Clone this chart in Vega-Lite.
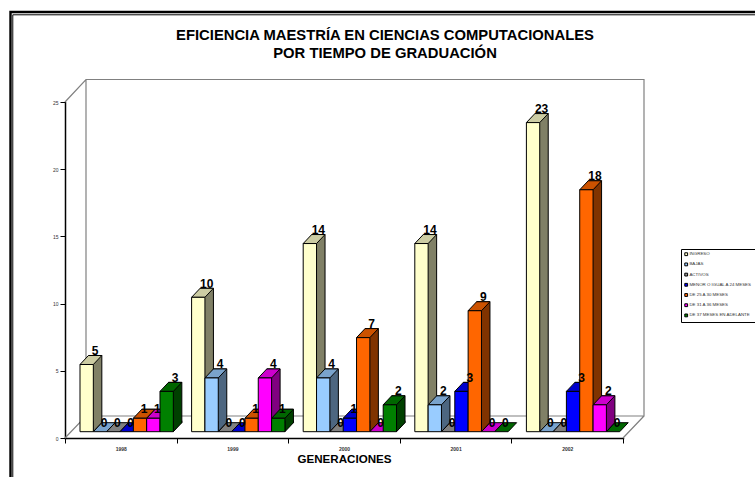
{"$schema":"https://vega.github.io/schema/vega-lite/v6.json","width":558,"height":336,"autosize":{"type":"none"},"padding":{"left":65,"top":102,"right":132,"bottom":39},"background":"white","title":{"text":["EFICIENCIA MAESTRÍA EN CIENCIAS COMPUTACIONALES","POR TIEMPO DE GRADUACIÓN"],"anchor":"middle","dx":41,"offset":-54,"font":"Liberation Sans","fontSize":14.8,"fontWeight":"bold","lineHeight":18,"color":"black"},"datasets":{"rows":[{"g":"1998","s":"INGRESO","v":5},{"g":"1998","s":"BAJAS","v":0},{"g":"1998","s":"ACTIVOS","v":0},{"g":"1998","s":"MENOR O IGUAL A 24 MESES","v":0},{"g":"1998","s":"DE 25 A 30 MESES","v":1},{"g":"1998","s":"DE 31 A 36 MESES","v":1},{"g":"1998","s":"DE 37 MESES EN ADELANTE","v":3},{"g":"1999","s":"INGRESO","v":10},{"g":"1999","s":"BAJAS","v":4},{"g":"1999","s":"ACTIVOS","v":0},{"g":"1999","s":"MENOR O IGUAL A 24 MESES","v":0},{"g":"1999","s":"DE 25 A 30 MESES","v":1},{"g":"1999","s":"DE 31 A 36 MESES","v":4},{"g":"1999","s":"DE 37 MESES EN ADELANTE","v":1},{"g":"2000","s":"INGRESO","v":14},{"g":"2000","s":"BAJAS","v":4},{"g":"2000","s":"ACTIVOS","v":0},{"g":"2000","s":"MENOR O IGUAL A 24 MESES","v":1},{"g":"2000","s":"DE 25 A 30 MESES","v":7},{"g":"2000","s":"DE 31 A 36 MESES","v":0},{"g":"2000","s":"DE 37 MESES EN ADELANTE","v":2},{"g":"2001","s":"INGRESO","v":14},{"g":"2001","s":"BAJAS","v":2},{"g":"2001","s":"ACTIVOS","v":0},{"g":"2001","s":"MENOR O IGUAL A 24 MESES","v":3},{"g":"2001","s":"DE 25 A 30 MESES","v":9},{"g":"2001","s":"DE 31 A 36 MESES","v":0},{"g":"2001","s":"DE 37 MESES EN ADELANTE","v":0},{"g":"2002","s":"INGRESO","v":23},{"g":"2002","s":"BAJAS","v":0},{"g":"2002","s":"ACTIVOS","v":0},{"g":"2002","s":"MENOR O IGUAL A 24 MESES","v":3},{"g":"2002","s":"DE 25 A 30 MESES","v":18},{"g":"2002","s":"DE 31 A 36 MESES","v":2},{"g":"2002","s":"DE 37 MESES EN ADELANTE","v":0}]},"data":{"name":"rows"},"encoding":{"x":{"field":"g","type":"nominal","title":"GENERACIONES","scale":{"domain":["1998","1999","2000","2001","2002"],"paddingInner":0,"paddingOuter":0},"axis":{"labelAngle":0,"tickBand":"extent","tickSize":5,"tickColor":"black","domainColor":"black","domainWidth":1.5,"labelFont":"Liberation Sans","labelFontSize":5,"labelFontWeight":"bold","labelColor":"#333333","labelPadding":3,"titleFont":"Liberation Sans","titleFontSize":11.6,"titleFontWeight":"bold","titleColor":"black","titlePadding":2}},"xOffset":{"field":"s","type":"nominal","scale":{"type":"band","domain":["INGRESO","BAJAS","ACTIVOS","MENOR O IGUAL A 24 MESES","DE 25 A 30 MESES","DE 31 A 36 MESES","DE 37 MESES EN ADELANTE"],"range":[15,108.33],"paddingInner":0,"paddingOuter":0}},"y":{"field":"v","type":"quantitative","title":null,"scale":{"domain":[0,25],"nice":false},"axis":{"values":[0,5,10,15,20,25],"grid":false,"tickSize":5,"tickColor":"black","domainColor":"black","domainWidth":1.5,"labelFont":"Liberation Sans","labelFontSize":5,"labelColor":"#333333","labelPadding":2}}},"layer":[{"transform":[{"filter":"datum.g == '1998' && datum.s == 'INGRESO'"}],"mark":{"type":"point","shape":"M-76.17,39 L-76.17,-426 L668.33,-426","size":4,"filled":false,"stroke":"black","strokeWidth":2.4,"opacity":1},"encoding":{"y":{"datum":0,"type":"quantitative"}}},{"transform":[{"filter":"datum.g == '1998' && datum.s == 'INGRESO'"}],"mark":{"type":"point","shape":"M-73.87,39 L-73.87,-423.2 L668.33,-423.2","size":4,"filled":false,"stroke":"black","strokeWidth":1,"opacity":1},"encoding":{"y":{"datum":0,"type":"quantitative"}}},{"transform":[{"filter":"datum.g == '1998' && datum.s == 'INGRESO'"}],"mark":{"type":"point","shape":"M-21.67,0 L-0.67,-22 L557.33,-22 L557.33,-358.5 L-0.67,-358.5 L-21.67,-336 M-0.67,-358.5 L-0.67,-22 M557.33,-22 L536.33,0","size":4,"filled":false,"stroke":"#808080","strokeWidth":1.2,"opacity":1},"encoding":{"y":{"datum":0,"type":"quantitative"}}},{"transform":[{"filter":"datum.v > 0"}],"mark":{"type":"bar","yOffset":-15.3,"stroke":"black","strokeWidth":1},"encoding":{"xOffset":{"field":"s","type":"nominal","scale":{"type":"band","domain":["INGRESO","BAJAS","ACTIVOS","MENOR O IGUAL A 24 MESES","DE 25 A 30 MESES","DE 31 A 36 MESES","DE 37 MESES EN ADELANTE"],"range":[23.5,116.83],"paddingInner":0,"paddingOuter":0}},"color":{"field":"s","type":"nominal","legend":null,"scale":{"domain":["INGRESO","BAJAS","ACTIVOS","MENOR O IGUAL A 24 MESES","DE 25 A 30 MESES","DE 31 A 36 MESES","DE 37 MESES EN ADELANTE"],"range":["#808066","#4D6680","#4B4B4B","#000080","#803300","#800080","#004000"]}}}},{"transform":[{"filter":"datum.v > 0"}],"mark":{"type":"point","shape":"M6.67,-17.3 L6.67,-6.3 L15.17,-15.3 L15.17,-17.3","size":4,"filled":true,"stroke":"black","strokeWidth":1,"opacity":1},"encoding":{"y":{"datum":0,"type":"quantitative"},"color":{"field":"s","type":"nominal","legend":null,"scale":{"domain":["INGRESO","BAJAS","ACTIVOS","MENOR O IGUAL A 24 MESES","DE 25 A 30 MESES","DE 31 A 36 MESES","DE 37 MESES EN ADELANTE"],"range":["#808066","#4D6680","#4B4B4B","#000080","#803300","#800080","#004000"]}}}},{"mark":{"type":"point","shape":"M-6.67,-6.3 L6.67,-6.3 L15.17,-15.3 L1.83,-15.3 Z","size":4,"filled":true,"stroke":"black","strokeWidth":1,"opacity":1},"encoding":{"color":{"field":"s","type":"nominal","legend":null,"scale":{"domain":["INGRESO","BAJAS","ACTIVOS","MENOR O IGUAL A 24 MESES","DE 25 A 30 MESES","DE 31 A 36 MESES","DE 37 MESES EN ADELANTE"],"range":["#CCCCA3","#7AA3CC","#808080","#0000CC","#CC5200","#CC00CC","#006600"]}}}},{"transform":[{"filter":"datum.v > 0"}],"mark":{"type":"bar","yOffset":-6.3,"stroke":"black","strokeWidth":1},"encoding":{"color":{"field":"s","type":"nominal","title":null,"scale":{"domain":["INGRESO","BAJAS","ACTIVOS","MENOR O IGUAL A 24 MESES","DE 25 A 30 MESES","DE 31 A 36 MESES","DE 37 MESES EN ADELANTE"],"range":["#FFFFCC","#99CCFF","#969696","#0000FF","#FF6600","#FF00FF","#008000"]},"legend":{"orient":"none","legendX":616,"legendY":147,"symbolType":"square","symbolSize":8,"symbolStrokeColor":"black","symbolStrokeWidth":1,"labelFont":"Liberation Sans","labelFontSize":4.4,"labelColor":"#333333","labelOffset":1,"labelLimit":90,"rowPadding":2.2,"strokeColor":"black","padding":3,"fillColor":"white"}}}},{"transform":[{"filter":"datum.v <= 1"}],"mark":{"type":"text","dx":4,"dy":-11.3,"align":"center","baseline":"alphabetic","font":"Liberation Sans","fontSize":12,"fontWeight":"bold","color":"black"},"encoding":{"text":{"field":"v","type":"quantitative"}}},{"transform":[{"filter":"datum.v > 1"}],"mark":{"type":"text","dx":8.5,"dy":-15.8,"align":"center","baseline":"alphabetic","font":"Liberation Sans","fontSize":12,"fontWeight":"bold","color":"black"},"encoding":{"text":{"field":"v","type":"quantitative"}}}],"resolve":{"scale":{"color":"independent","xOffset":"independent"}},"config":{"view":{"stroke":null},"axis":{"domainCap":"square"}}}
